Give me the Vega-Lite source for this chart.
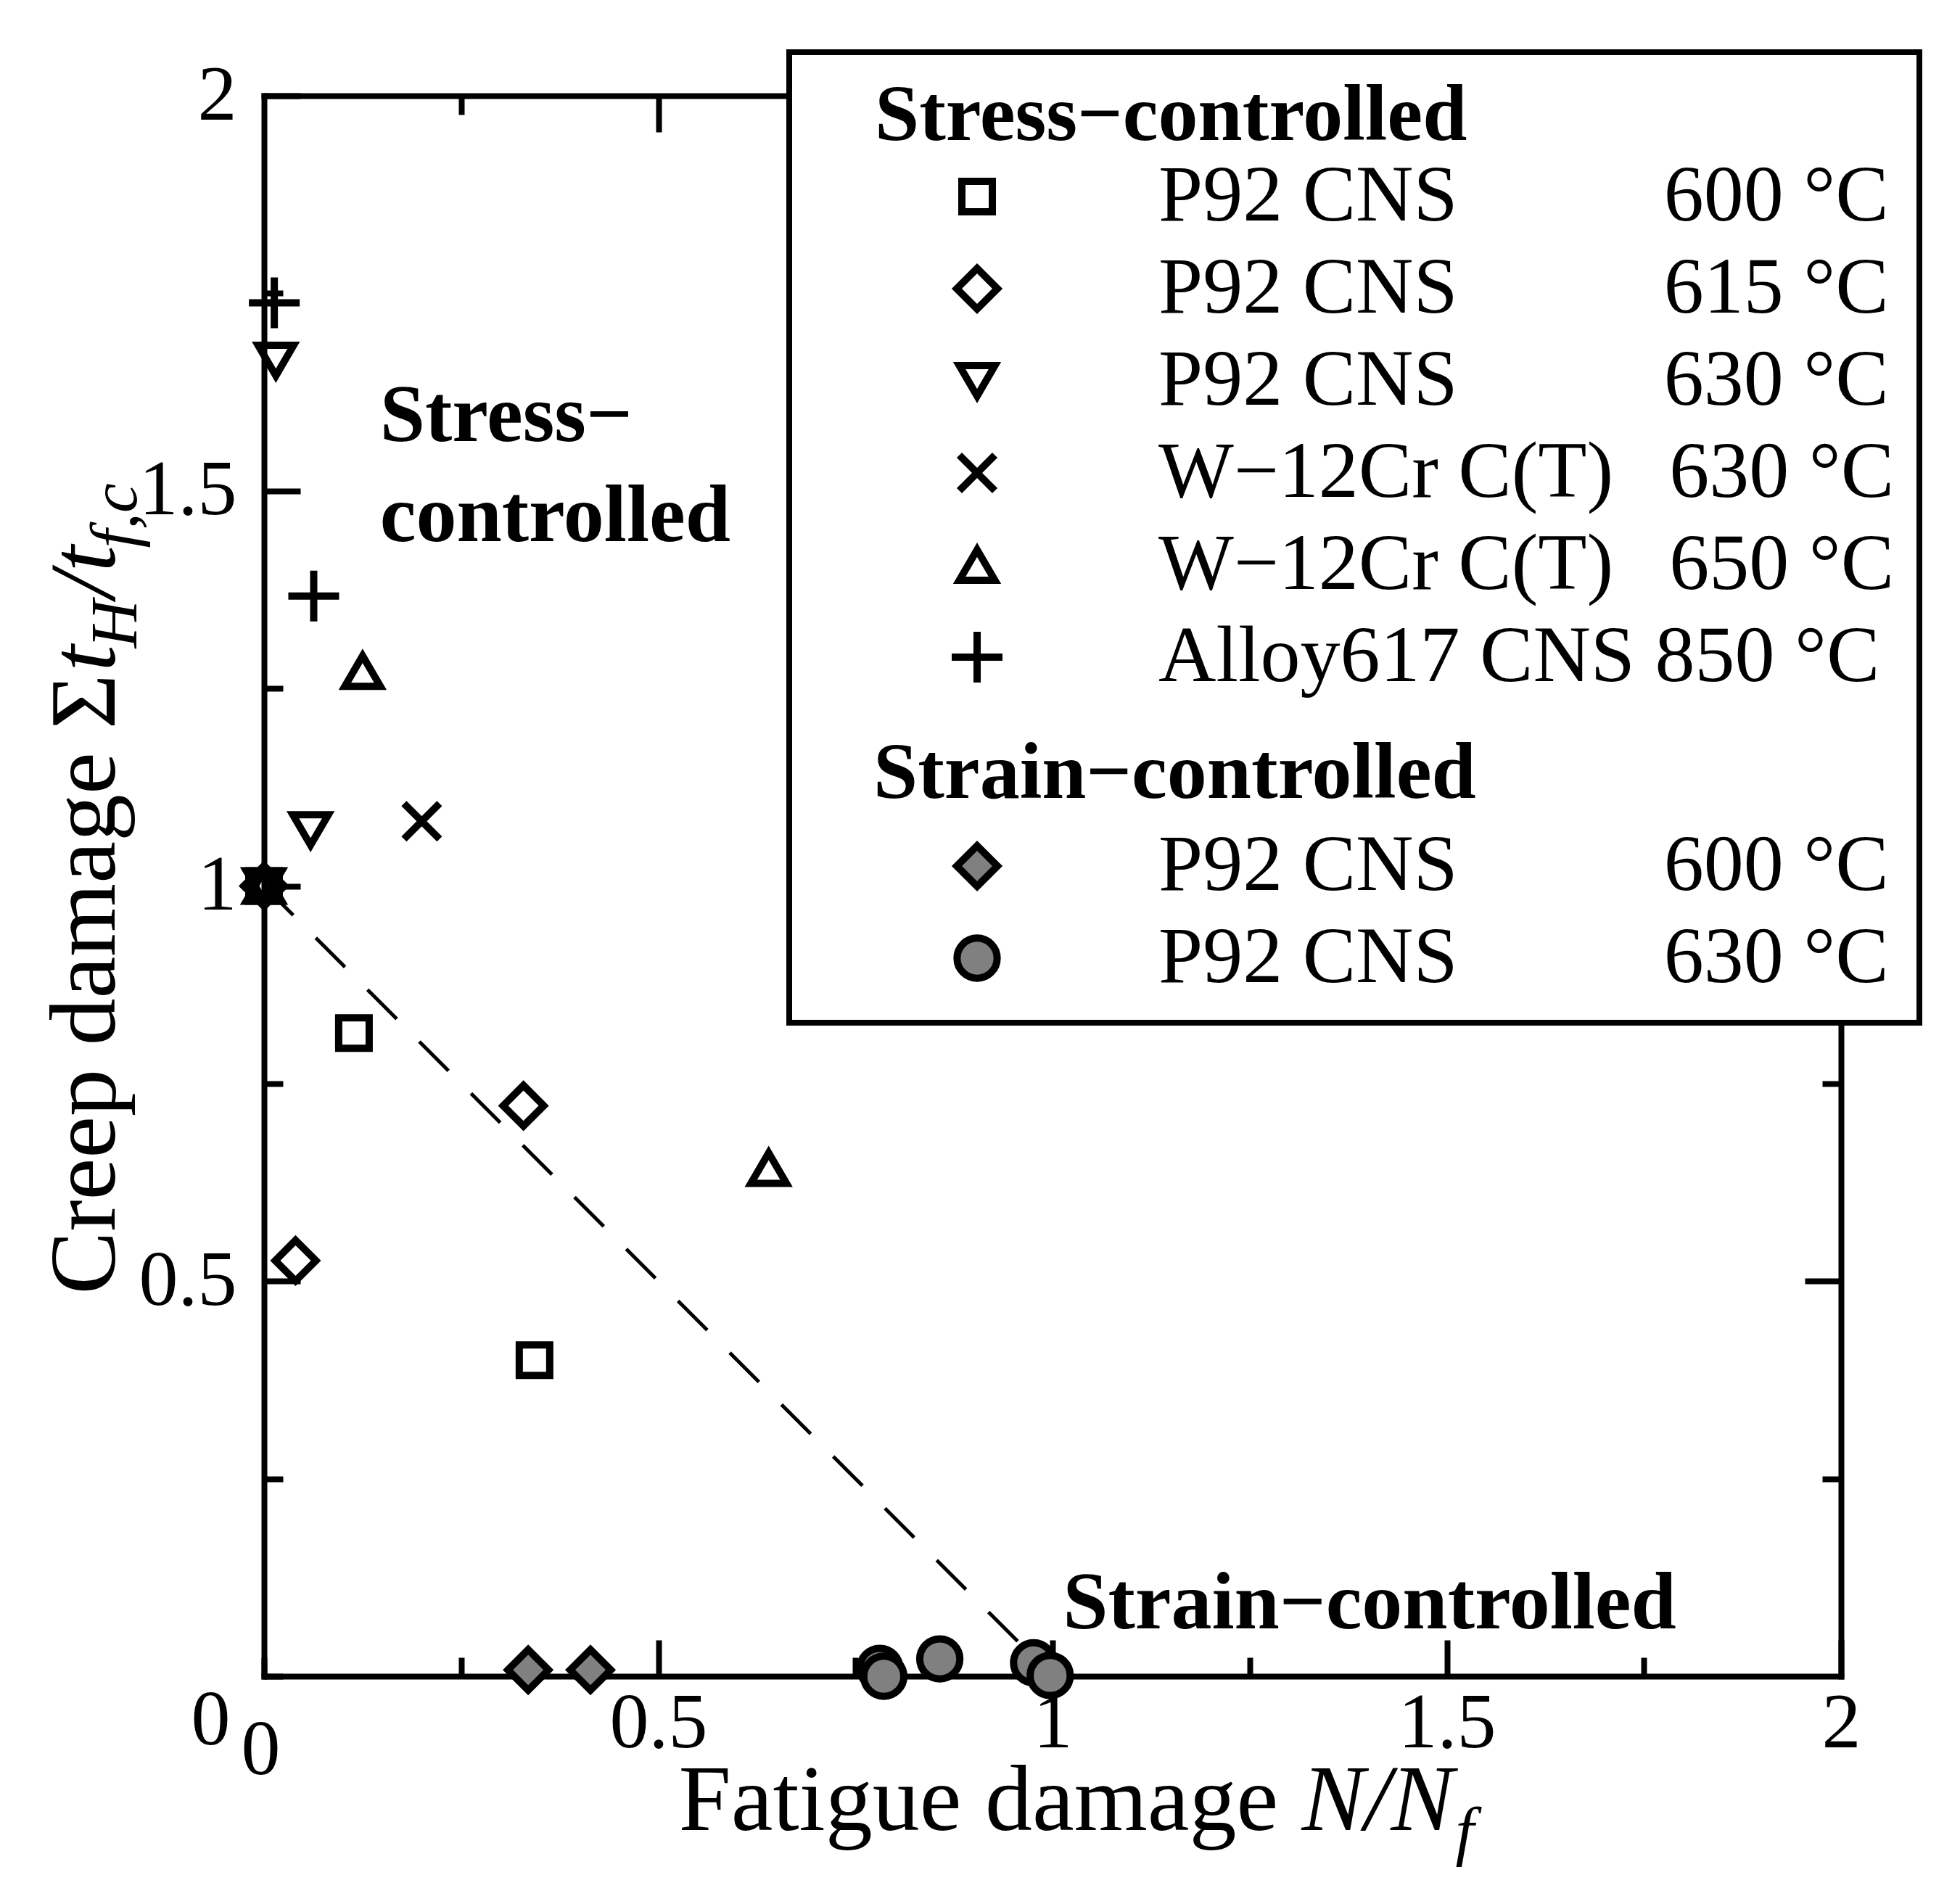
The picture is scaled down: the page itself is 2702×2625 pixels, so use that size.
{
  "$schema": "https://vega.github.io/schema/vega-lite/v6.json",
  "width": 2174,
  "height": 2179,
  "autosize": "none",
  "padding": {"left": 364, "top": 132, "right": 164, "bottom": 314},
  "background": "white",
  "config": {
    "view": {"stroke": null},
    "axis": {
      "grid": false, "domainColor": "black", "domainWidth": 8, "domainCap": "square",
      "tickColor": "black", "tickWidth": 8,
      "labelFont": "Liberation Serif", "labelFontSize": 108, "labelColor": "black",
      "labelFlush": false, "labelOverlap": false,
      "titleFont": "Liberation Serif", "titleFontSize": 130, "titleFontWeight": "normal",
      "titleColor": "black", "titleLimit": 3000, "titleAlign": "left", "titleBaseline": "alphabetic"
    },
    "legend": {
      "orient": "none", "legendX": 724, "legendY": -60, "direction": "vertical",
      "fillColor": "white", "strokeColor": "black", "padding": 34,
      "titleFont": "Liberation Serif", "titleFontSize": 110, "titleFontWeight": "bold",
      "titleColor": "black", "titlePadding": 0, "titleLimit": 3000,
      "labelFont": "Liberation Serif", "labelFontSize": 110, "labelColor": "black", "labelLimit": 3000,
      "symbolSize": 4900, "symbolStrokeWidth": 10, "symbolOffset": 170, "labelOffset": 195, "rowPadding": 17
    }
  },
  "layer": [
    {
      "data": {"values": [{"fatigue": 0, "creep": 1}, {"fatigue": 1, "creep": 0}]},
      "mark": {"type": "line", "color": "black", "strokeWidth": 5, "strokeDash": [57, 44]},
      "encoding": {
        "x": {"field": "fatigue", "type": "quantitative", "scale": {"domain": [0, 2], "nice": false},
          "axis": {"orient": "bottom", "values": [0.5, 1, 1.5, 2], "format": "~g", "tickSize": -50, "labelPadding": 62,
            "title": "Fatigue damage", "titleX": 571, "titleY": 211, "titleAngle": 0}},
        "y": {"field": "creep", "type": "quantitative", "scale": {"domain": [0, 2], "nice": false},
          "axis": {"orient": "left", "values": [0.5, 1, 1.5, 2], "format": "~g", "tickSize": -50, "labelPadding": 88,
            "title": "Creep damage Σ", "titleX": -207, "titleY": 1652, "titleAngle": -90}}
      }
    },
    {
      "data": {"values": [
        {"series": "s600", "fatigue": 0.114, "creep": 0.814},
        {"series": "s600", "fatigue": 0.343, "creep": 0.400},
        {"series": "s600", "fatigue": 0.0, "creep": 1.0},
        {"series": "s615", "fatigue": 0.329, "creep": 0.722},
        {"series": "s615", "fatigue": 0.040, "creep": 0.526},
        {"series": "s615", "fatigue": 0.0, "creep": 1.0},
        {"series": "s630", "fatigue": 0.015, "creep": 1.665},
        {"series": "s630", "fatigue": 0.059, "creep": 1.071},
        {"series": "s630", "fatigue": 0.0, "creep": 1.0},
        {"series": "w630", "fatigue": 0.200, "creep": 1.082},
        {"series": "w650", "fatigue": 0.125, "creep": 1.272},
        {"series": "w650", "fatigue": 0.640, "creep": 0.643},
        {"series": "w650", "fatigue": 0.0, "creep": 1.0},
        {"series": "a850", "fatigue": 0.013, "creep": 1.738},
        {"series": "a850", "fatigue": 0.063, "creep": 1.367},
        {"series": "t600", "fatigue": 0.335, "creep": 0.008},
        {"series": "t600", "fatigue": 0.414, "creep": 0.008},
        {"series": "t630", "fatigue": 0.781, "creep": 0.010},
        {"series": "t630", "fatigue": 0.786, "creep": 0.0},
        {"series": "t630", "fatigue": 0.857, "creep": 0.022},
        {"series": "t630", "fatigue": 0.976, "creep": 0.017},
        {"series": "t630", "fatigue": 0.997, "creep": 0.001}
      ]},
      "mark": {"type": "point", "size": 4900, "strokeWidth": 10, "opacity": 1, "filled": false},
      "encoding": {
        "x": {"field": "fatigue", "type": "quantitative", "scale": {"domain": [0, 2], "nice": false},
          "axis": {"orient": "bottom", "values": [0, 0.25, 0.75, 1.25, 1.75], "tickSize": -26, "domain": false,
            "labelExpr": "datum.value == 0 ? '0' : ''", "labelPadding": 75, "labelOffset": -5,
            "title": "N/N", "titleFontStyle": "italic", "titleX": 1430, "titleY": 211, "titleAngle": 0}},
        "y": {"field": "creep", "type": "quantitative", "scale": {"domain": [0, 2], "nice": false},
          "axis": {"orient": "left", "values": [0, 0.25, 0.75, 1.25, 1.75], "tickSize": -26, "domain": false,
            "labelExpr": "datum.value == 0 ? '0' : ''", "labelPadding": 73, "labelOffset": 61,
            "title": "t\u00a0\u00a0/t", "titleFontStyle": "italic", "titleX": -207, "titleY": 793, "titleAngle": -90}},
        "shape": {"field": "series", "type": "nominal", "title": "Stress−controlled",
          "scale": {"domain": ["s600", "s615", "s630", "w630", "w650", "a850", "hdr", "t600", "t630"],
            "range": ["M-0.6,-0.6L0.6,-0.6L0.6,0.6L-0.6,0.6Z", "M0,-0.8L0.8,0L0,0.8L-0.8,0Z", "M-0.7,-0.6L0.7,-0.6L0,0.6Z", "M-0.7,-0.7L0.7,0.7M-0.7,0.7L0.7,-0.7", "M0,-0.6L0.7,0.6L-0.7,0.6Z", "M-1,0L1,0M0,-1L0,1", "M-0.5,0L0.5,0", "M0,-0.8L0.8,0L0,0.8L-0.8,0Z", "M0.79,0A0.79,0.79,0,1,1,-0.79,0A0.79,0.79,0,1,1,0.79,0Z"]},
          "legend": {
            "labelExpr": "datum.value == 's600' ? 'P92 CNS\u00a0\u00a0\u00a0\u00a0\u00a0\u00a0\u00a0\u00a0\u00a0\u00a0\u200a600 °C' : datum.value == 's615' ? 'P92 CNS\u00a0\u00a0\u00a0\u00a0\u00a0\u00a0\u00a0\u00a0\u00a0\u00a0\u200a615 °C' : datum.value == 's630' ? 'P92 CNS\u00a0\u00a0\u00a0\u00a0\u00a0\u00a0\u00a0\u00a0\u00a0\u00a0\u200a630 °C' : datum.value == 'w630' ? 'W−12Cr C(T)\u00a0\u00a0\u2009630 °C\u00a0\u00a0' : datum.value == 'w650' ? 'W−12Cr C(T)\u00a0\u00a0\u2009650 °C\u00a0\u00a0' : datum.value == 'a850' ? 'Alloy617 CNS 850 °C' : datum.value == 'hdr' ? 'Strain−controlled' : datum.value == 't600' ? 'P92 CNS\u00a0\u00a0\u00a0\u00a0\u00a0\u00a0\u00a0\u00a0\u00a0\u00a0\u200a600 °C' : 'P92 CNS\u00a0\u00a0\u00a0\u00a0\u00a0\u00a0\u00a0\u00a0\u00a0\u00a0\u200a630 °C'",
            "encoding": {
              "labels": {
                "fontWeight": {"value": {"expr": "datum.value == 'hdr' ? 'bold' : 'normal'"}},
                "dx": {"value": {"expr": "datum.value == 'hdr' ? -393 : 0"}},
                "dy": {"value": {"expr": "datum.value == 'hdr' ? 34 : 0"}}
              },
              "title": {"dx": {"value": 84}},
              "legend": {"strokeWidth": {"value": 8}}
            }
          }},
        "stroke": {"field": "series", "type": "nominal", "title": "Stress−controlled",
          "scale": {"domain": ["s600", "s615", "s630", "w630", "w650", "a850", "hdr", "t600", "t630"],
            "range": ["black", "black", "black", "black", "black", "black", "transparent", "black", "black"]}},
        "fill": {"field": "series", "type": "nominal", "title": "Stress−controlled",
          "scale": {"domain": ["s600", "s615", "s630", "w630", "w650", "a850", "hdr", "t600", "t630"],
            "range": ["transparent", "transparent", "transparent", "transparent", "transparent", "transparent", "transparent", "#808080", "#808080"]}}
      }
    },
    {
      "data": {"values": [
        {"fatigue": 0.147, "creep": 1.563, "label": "Stress−"},
        {"fatigue": 0.147, "creep": 1.436, "label": "controlled"}
      ]},
      "mark": {"type": "text", "font": "Liberation Serif", "fontSize": 112, "fontWeight": "bold", "align": "left", "baseline": "alphabetic", "color": "black"},
      "encoding": {
        "x": {"field": "fatigue", "type": "quantitative", "scale": {"domain": [0, 2], "nice": false},
          "axis": {"orient": "top", "values": [0.5, 1, 1.5, 2], "tickSize": -50, "labels": false,
            "title": "f", "titleFontStyle": "italic", "titleFontSize": 92, "titleX": 1642, "titleY": 2422, "titleAngle": 0}},
        "y": {"field": "creep", "type": "quantitative", "scale": {"domain": [0, 2], "nice": false},
          "axis": {"orient": "right", "values": [0.5, 1, 1.5, 2], "tickSize": -50, "labels": false,
            "title": "H", "titleFontStyle": "italic", "titleFontSize": 92, "titleX": -2351, "titleY": 761, "titleAngle": -90}},
        "text": {"field": "label"}
      }
    },
    {
      "data": {"values": [
        {"fatigue": 1.013, "creep": 0.0606, "label": "Strain−controlled"}
      ]},
      "mark": {"type": "text", "font": "Liberation Serif", "fontSize": 112, "fontWeight": "bold", "align": "left", "baseline": "alphabetic", "color": "black"},
      "encoding": {
        "x": {"field": "fatigue", "type": "quantitative", "scale": {"domain": [0, 2], "nice": false},
          "axis": {"orient": "top", "values": [0.25, 0.75, 1.25, 1.75], "tickSize": -26, "labels": false, "domain": false, "title": null}},
        "y": {"field": "creep", "type": "quantitative", "scale": {"domain": [0, 2], "nice": false},
          "axis": {"orient": "right", "values": [0.25, 0.75, 1.25, 1.75], "tickSize": -26, "labels": false, "domain": false,
            "title": "f,c", "titleFontStyle": "italic", "titleFontSize": 92, "titleX": -2351, "titleY": 623, "titleAngle": -90}},
        "text": {"field": "label"}
      }
    }
  ],
  "resolve": {"axis": {"x": "independent", "y": "independent"}}
}
